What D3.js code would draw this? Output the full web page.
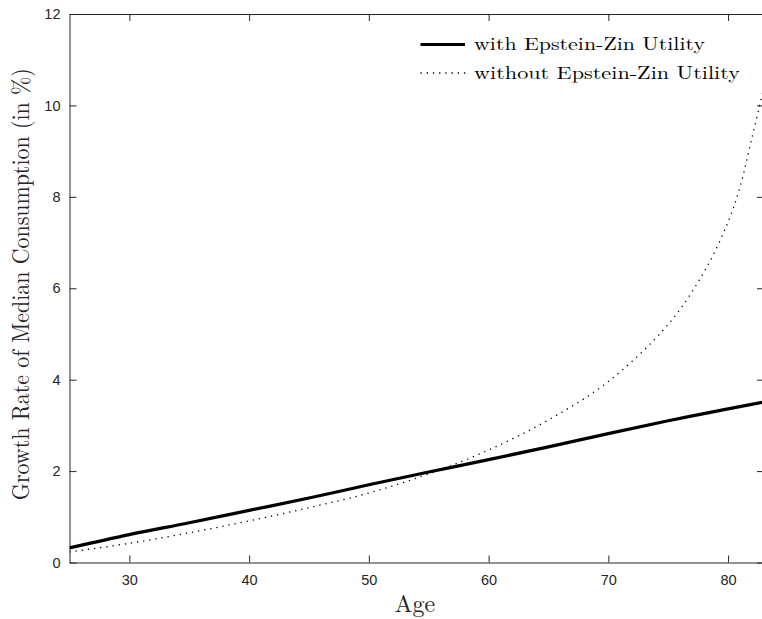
<!DOCTYPE html>
<html><head><meta charset="utf-8">
<script src="https://cdn.jsdelivr.net/npm/d3@7"></script>
<style>body{margin:0;background:#fff}svg{display:block}</style>
</head><body>
<svg id="c" width="762" height="619"></svg>
<script>
const agesEZ = [25,30,35,40,45,50,55,60,65,70,75,80,83];
const withEZ = [0.32,0.61,0.87,1.14,1.41,1.70,1.98,2.25,2.53,2.82,3.10,3.36,3.51];
const agesNo = [25,30,35,40,45,50,55,60,65,70,75,78,80,81,82,83];
const withoutEZ = [0.23,0.42,0.65,0.91,1.2,1.52,1.94,2.46,3.12,3.96,5.21,6.36,7.45,8.22,9.3,10.4];
const xTicks = [30,40,50,60,70,80];
const yTicks = [0,2,4,6,8,10,12];
const seriesNames = ["with Epstein-Zin Utility","without Epstein-Zin Utility"];

const svg = d3.select("#c");
const L=69.5, R=764, T=14, B=562.5;
const x = d3.scaleLinear().domain([25,83]).range([L,R]);
const y = d3.scaleLinear().domain([0,12]).range([B,T]);
const axisCol="#262626";
const tickFont="'Liberation Sans', Arial, sans-serif";

svg.append("clipPath").attr("id","clip").append("rect").attr("x",L).attr("y",T).attr("width",R-L).attr("height",B-T);

const gx = svg.append("g").attr("transform",`translate(0,${B})`)
  .call(d3.axisBottom(x).tickValues(xTicks).tickSize(-7).tickPadding(12).tickSizeOuter(0));
const gxt = svg.append("g").attr("transform",`translate(0,${T})`)
  .call(d3.axisTop(x).tickValues(xTicks).tickSize(-7).tickFormat("").tickSizeOuter(0));
const gy = svg.append("g").attr("transform",`translate(${L},0)`)
  .call(d3.axisLeft(y).tickValues(yTicks).tickSize(-7).tickPadding(9).tickSizeOuter(0));
const gyr = svg.append("g").attr("transform",`translate(${R},0)`)
  .call(d3.axisRight(y).tickValues(yTicks).tickSize(-7).tickFormat("").tickSizeOuter(0));
[gx,gxt,gy,gyr].forEach(g=>{
  g.selectAll("path,line").attr("stroke",axisCol).attr("stroke-width",1);
  g.selectAll("text").attr("fill",axisCol).style("font-family",tickFont).style("font-size","14.5px");
});

const line = d3.line().x(d=>x(d[0])).y(d=>y(d[1])).curve(d3.curveCatmullRom.alpha(0.5));
const plot = svg.append("g").attr("clip-path","url(#clip)");
plot.append("path").datum(agesNo.map((a,i)=>[a,withoutEZ[i]]))
  .attr("d",line).attr("fill","none").attr("stroke","#000").attr("stroke-width",1.3)
  .attr("stroke-dasharray","1.3,4.9");
plot.append("path").datum(agesEZ.map((a,i)=>[a,withEZ[i]]))
  .attr("d",line).attr("fill","none").attr("stroke","#000").attr("stroke-width",3.2);

const serif="'Latin Modern Roman','CMU Serif','Liberation Serif','DejaVu Serif',serif";
const lg = svg.append("g");
lg.append("line").attr("x1",420.5).attr("x2",465).attr("y1",44.5).attr("y2",44.5)
  .attr("stroke","#000").attr("stroke-width",3.2);
lg.append("line").attr("x1",420.5).attr("x2",466).attr("y1",73).attr("y2",73)
  .attr("stroke","#000").attr("stroke-width",1.3).attr("stroke-dasharray","1.3,4.9");
lg.append("text").attr("x",474).attr("y",50).text(seriesNames[0])
  .style("font-family",serif).style("font-size","18px").attr("textLength",231).attr("lengthAdjust","spacingAndGlyphs");
lg.append("text").attr("x",474).attr("y",78.5).text(seriesNames[1])
  .style("font-family",serif).style("font-size","18px").attr("textLength",266).attr("lengthAdjust","spacingAndGlyphs");

svg.append("text").attr("x",(L+R)/2-2).attr("y",612).attr("text-anchor","middle")
  .style("font-family",serif).style("font-size","24px").attr("fill","#262626").text("Age");
svg.append("text").attr("transform",`translate(29,${(T+B)/2-4}) rotate(-90)`).attr("text-anchor","middle")
  .style("font-family",serif).style("font-size","24px").attr("fill","#262626")
  .attr("textLength",432).attr("lengthAdjust","spacingAndGlyphs")
  .text("Growth Rate of Median Consumption (in %)");
</script>
</body></html>
